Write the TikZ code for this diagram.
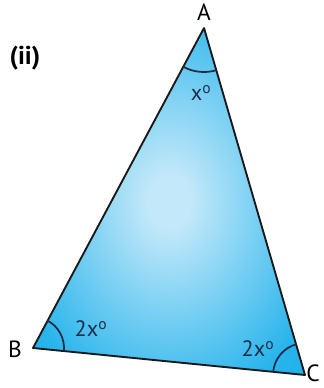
\documentclass[tikz,border=0pt]{standalone}
\usepackage{fontspec}
\setmainfont{PT Sans}
\usetikzlibrary{angles}
\definecolor{glowin}{HTML}{C2E8F9}
\definecolor{glowmid}{HTML}{28B4EC}
\definecolor{glowout}{HTML}{0CA8E6}
\definecolor{arcnavy}{HTML}{1C2F4A}
\pgfdeclareradialshading{triglow}{\pgfpoint{0bp}{0bp}}{%
  color(0bp)=(glowin); color(4bp)=(glowin); color(30bp)=(glowmid); color(50bp)=(glowout)}

\begin{document}
\begin{tikzpicture}[x=0.03cm,y=-0.03cm,
  lbl/.style={font=\fontsize{20}{24}\selectfont,inner sep=0pt},
  anglbl/.style={font=\fontsize{19}{23}\selectfont,text=arcnavy},
  anglearc/.style={draw=arcnavy,line width=1.5pt}]
\useasboundingbox (0,0) rectangle (323,388);
% corners of the triangle
\coordinate (A) at (204,28);
\coordinate (B) at (33,348);
\coordinate (C) at (305,375);

% filled triangle
\shade[shading=triglow] (A) -- (B) -- (C) -- cycle;
\draw[line width=1.6pt,black!90,line join=round] (A) -- (B) -- (C) -- cycle;

% angle marks
\pic[anglearc,angle radius=1.32cm] {angle=B--A--C};
\pic[anglearc,angle radius=0.93cm] {angle=C--B--A};
\pic[anglearc,angle radius=0.96cm] {angle=A--C--B};

% vertex names
\node[lbl] (nameA) at (204,12) {A};
\node[lbl] (nameB) at (15,349) {B};
\node[lbl] (nameC) at (313,373) {C};

% angle values
\node[anglbl] (valA) at (201,93) {x\textsuperscript{o}};
\node[anglbl] (valB) at (91,329) {2x\textsuperscript{o}};
\node[anglbl] (valC) at (258,349) {2x\textsuperscript{o}};

\node[font=\fontsize{22}{26}\selectfont\bfseries] (part) at (25,58) {(ii)};
\end{tikzpicture}
\end{document}
